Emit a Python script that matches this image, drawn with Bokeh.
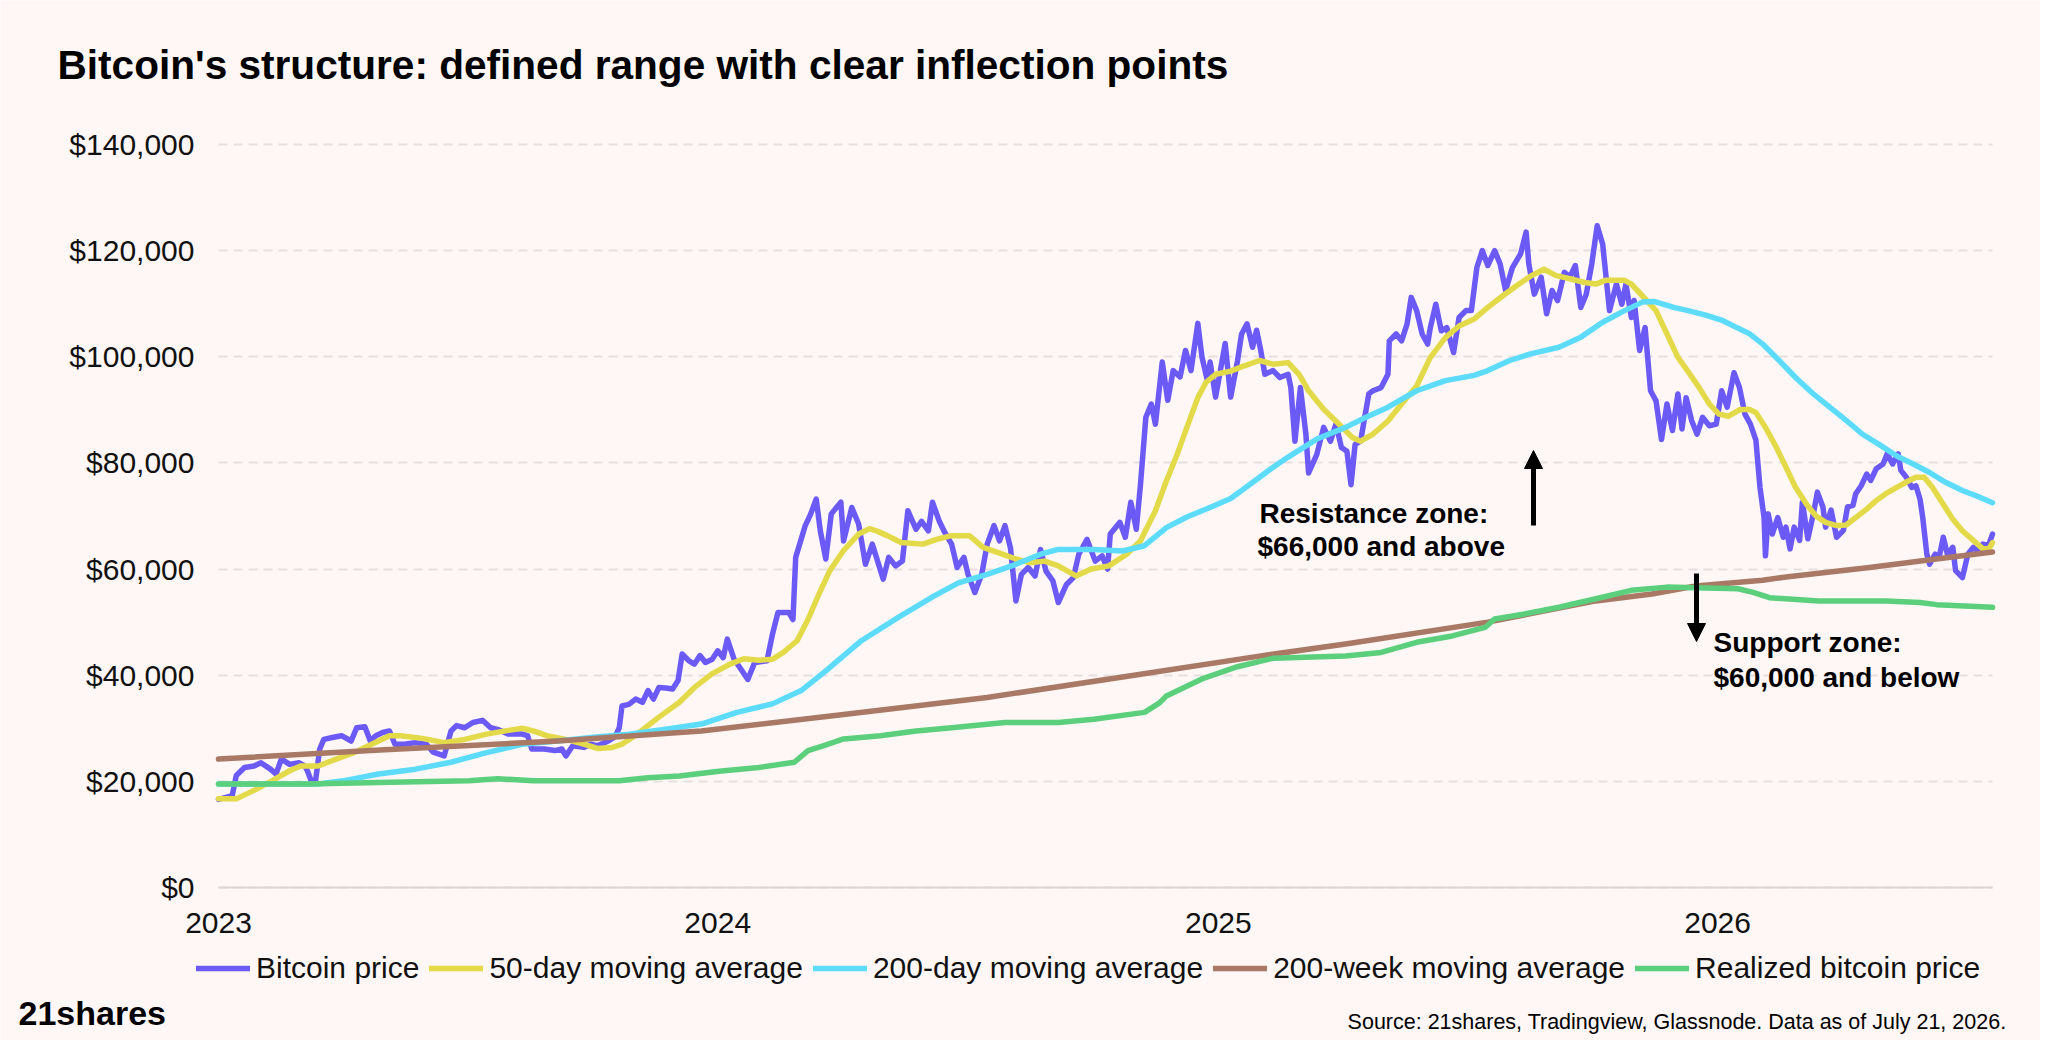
from datetime import datetime
import pandas as pd
from bokeh.plotting import figure
from bokeh.models import (ColumnDataSource, Range1d, FixedTicker, NumeralTickFormatter,
                          DatetimeTickFormatter, Legend, LegendItem, Label, Arrow, NormalHead)
from bokeh.embed import file_html
from bokeh.resources import INLINE

# ---------------- data (values in thousands of USD) ----------------
btc_dates = [
    "2023-01-01", "2023-01-11", "2023-01-14", "2023-01-20", "2023-01-27", "2023-02-01", "2023-02-08", "2023-02-12",
    "2023-02-16", "2023-02-22", "2023-03-01", "2023-03-05", "2023-03-07", "2023-03-10", "2023-03-13", "2023-03-16",
    "2023-03-19", "2023-03-26", "2023-04-01", "2023-04-08", "2023-04-12", "2023-04-18", "2023-04-22", "2023-04-26",
    "2023-05-01", "2023-05-06", "2023-05-10", "2023-05-17", "2023-05-25", "2023-06-02", "2023-06-07", "2023-06-15",
    "2023-06-20", "2023-06-24", "2023-06-30", "2023-07-06", "2023-07-13", "2023-07-19", "2023-07-24", "2023-08-01",
    "2023-08-11", "2023-08-15", "2023-08-18", "2023-08-27", "2023-09-04", "2023-09-09", "2023-09-12", "2023-09-17",
    "2023-09-25", "2023-09-30", "2023-10-05", "2023-10-13", "2023-10-18", "2023-10-21", "2023-10-23", "2023-10-28",
    "2023-11-02", "2023-11-07", "2023-11-11", "2023-11-15", "2023-11-19", "2023-11-24", "2023-11-29", "2023-12-03",
    "2023-12-06", "2023-12-11", "2023-12-15", "2023-12-19", "2023-12-23", "2023-12-28", "2024-01-01", "2024-01-05",
    "2024-01-08", "2024-01-13", "2024-01-17", "2024-01-23", "2024-01-28", "2024-02-06", "2024-02-10", "2024-02-14",
    "2024-02-22", "2024-02-25", "2024-02-27", "2024-03-05", "2024-03-09", "2024-03-13", "2024-03-16", "2024-03-20",
    "2024-03-24", "2024-03-31", "2024-04-02", "2024-04-08", "2024-04-13", "2024-04-18", "2024-04-23", "2024-05-01",
    "2024-05-05", "2024-05-10", "2024-05-15", "2024-05-19", "2024-05-25", "2024-05-29", "2024-06-03", "2024-06-06",
    "2024-06-11", "2024-06-15", "2024-06-20", "2024-06-24", "2024-06-29", "2024-07-02", "2024-07-07", "2024-07-12",
    "2024-07-16", "2024-07-21", "2024-07-25", "2024-07-29", "2024-08-02", "2024-08-06", "2024-08-10", "2024-08-15",
    "2024-08-20", "2024-08-24", "2024-08-28", "2024-09-02", "2024-09-06", "2024-09-12", "2024-09-17", "2024-09-21",
    "2024-09-27", "2024-10-03", "2024-10-08", "2024-10-12", "2024-10-14", "2024-10-21", "2024-10-25", "2024-10-29",
    "2024-11-02", "2024-11-05", "2024-11-09", "2024-11-13", "2024-11-16", "2024-11-21", "2024-11-25", "2024-11-29",
    "2024-12-04", "2024-12-08", "2024-12-12", "2024-12-17", "2024-12-20", "2024-12-24", "2024-12-26", "2024-12-30",
    "2025-01-06", "2025-01-10", "2025-01-15", "2025-01-18", "2025-01-22", "2025-01-26", "2025-01-29", "2025-02-01",
    "2025-02-04", "2025-02-10", "2025-02-15", "2025-02-21", "2025-02-23", "2025-02-26", "2025-03-02", "2025-03-06",
    "2025-03-08", "2025-03-14", "2025-03-19", "2025-03-24", "2025-03-28", "2025-04-01", "2025-04-05", "2025-04-08",
    "2025-04-11", "2025-04-15", "2025-04-21", "2025-04-24", "2025-04-30", "2025-05-05", "2025-05-06", "2025-05-11",
    "2025-05-15", "2025-05-19", "2025-05-22", "2025-05-26", "2025-05-30", "2025-06-03", "2025-06-05", "2025-06-09",
    "2025-06-13", "2025-06-17", "2025-06-22", "2025-06-26", "2025-07-01", "2025-07-05", "2025-07-09", "2025-07-13",
    "2025-07-17", "2025-07-22", "2025-07-26", "2025-07-30", "2025-08-04", "2025-08-10", "2025-08-14", "2025-08-16",
    "2025-08-20", "2025-08-25", "2025-08-29", "2025-09-02", "2025-09-06", "2025-09-11", "2025-09-15", "2025-09-19",
    "2025-09-23", "2025-09-27", "2025-10-01", "2025-10-05", "2025-10-09", "2025-10-11", "2025-10-14", "2025-10-19",
    "2025-10-23", "2025-10-26", "2025-10-30", "2025-11-01", "2025-11-05", "2025-11-09", "2025-11-13", "2025-11-17",
    "2025-11-21", "2025-11-25", "2025-11-29", "2025-12-03", "2025-12-06", "2025-12-09", "2025-12-13", "2025-12-17",
    "2025-12-21", "2025-12-26", "2025-12-31", "2026-01-04", "2026-01-08", "2026-01-13", "2026-01-17", "2026-01-21",
    "2026-01-25", "2026-01-29", "2026-02-01", "2026-02-04", "2026-02-05", "2026-02-07", "2026-02-10", "2026-02-14",
    "2026-02-18", "2026-02-20", "2026-02-23", "2026-02-26", "2026-03-02", "2026-03-04", "2026-03-08", "2026-03-12",
    "2026-03-15", "2026-03-19", "2026-03-21", "2026-03-25", "2026-03-29", "2026-04-03", "2026-04-06", "2026-04-10",
    "2026-04-12", "2026-04-16", "2026-04-20", "2026-04-23", "2026-04-27", "2026-05-02", "2026-05-05", "2026-05-09",
    "2026-05-13", "2026-05-15", "2026-05-19", "2026-05-23", "2026-05-26", "2026-05-29", "2026-05-31", "2026-06-03",
    "2026-06-05", "2026-06-09", "2026-06-12", "2026-06-15", "2026-06-18", "2026-06-22", "2026-06-24", "2026-06-29",
    "2026-07-03", "2026-07-07", "2026-07-10", "2026-07-14", "2026-07-18", "2026-07-21",
]
btc_values = [
    16.6, 17.3, 21.1, 22.6, 22.9, 23.5, 22.3, 21.4,
    24.2, 23.2, 23.5, 22.9, 22.0, 19.9, 20.2, 26.1,
    27.9, 28.3, 28.6, 27.6, 30.1, 30.3, 27.6, 28.6,
    29.2, 29.5, 27.0, 27.0, 27.3, 27.0, 25.5, 24.8,
    29.5, 30.5, 30.1, 31.1, 31.5, 30.1, 29.8, 28.9,
    28.9, 28.6, 26.1, 26.1, 25.8, 26.1, 24.8, 26.7,
    26.4, 27.0, 26.7, 27.6, 28.4, 30.1, 34.2, 34.5,
    35.5, 34.9, 37.1, 35.5, 37.7, 37.6, 37.4, 39.0,
    44.0, 42.7, 42.1, 43.7, 42.4, 43.0, 44.6, 43.3,
    46.8, 43.0, 41.5, 39.2, 42.4, 42.7, 47.7, 51.8,
    51.8, 50.5, 62.2, 68.2, 70.4, 73.2, 67.2, 61.9,
    70.4, 72.6, 65.3, 71.6, 68.5, 60.9, 64.7, 58.1,
    62.2, 60.6, 61.5, 71.0, 67.5, 69.0, 67.2, 72.6,
    69.0, 66.9, 64.7, 60.3, 62.2, 59.0, 55.6, 59.0,
    64.7, 68.2, 65.3, 68.2, 64.0, 54.0, 59.0, 60.3,
    58.7, 63.7, 59.6, 57.8, 53.7, 57.1, 58.4, 62.8,
    65.6, 61.5, 62.5, 60.0, 66.6, 68.8, 66.0, 72.6,
    67.5, 75.7, 88.6, 91.1, 87.3, 99.0, 91.8, 97.4,
    96.2, 101.2, 97.4, 106.3, 100.0, 95.5, 99.0, 92.4,
    102.5, 92.4, 99.2, 104.3, 106.2, 101.8, 105.0, 101.2,
    96.7, 97.4, 96.1, 96.7, 94.2, 84.1, 94.2, 85.4,
    78.1, 81.6, 86.7, 84.1, 87.3, 82.9, 82.2, 75.9,
    83.5, 84.1, 93.0, 93.6, 94.2, 96.7, 103.0, 104.3,
    103.0, 106.2, 111.2, 108.7, 104.3, 102.4, 105.5, 109.9,
    104.9, 105.5, 100.8, 107.4, 108.7, 108.7, 116.8, 120.0,
    117.2, 120.0, 117.5, 112.5, 116.8, 119.4, 123.5, 117.5,
    111.8, 115.0, 108.1, 112.5, 110.6, 115.9, 115.0, 117.2,
    109.3, 111.8, 117.5, 124.7, 121.2, 116.2, 108.7, 113.7,
    109.9, 113.7, 107.4, 110.6, 101.2, 105.5, 93.6, 91.7,
    84.4, 91.1, 86.1, 93.0, 86.4, 92.3, 88.0, 85.4,
    88.6, 87.0, 87.3, 93.6, 90.5, 97.0, 94.2, 89.2,
    87.3, 84.3, 75.4, 69.7, 62.5, 70.4, 66.6, 69.7,
    66.0, 67.9, 63.8, 67.9, 65.4, 72.6, 65.7, 70.4,
    74.5, 71.7, 67.9, 71.1, 66.0, 67.3, 71.7, 72.0,
    74.2, 75.7, 77.9, 76.7, 78.9, 79.8, 81.7, 79.8,
    81.7, 78.6, 77.3, 75.4, 75.7, 73.2, 69.7, 62.8,
    60.9, 62.8, 62.2, 66.0, 62.8, 64.1, 59.7, 58.4,
    62.8, 64.1, 63.5, 64.7, 64.4, 66.6,
]

ma50_dates = [
    "2023-01-01", "2023-01-14", "2023-01-27", "2023-02-09", "2023-02-22", "2023-03-02", "2023-03-15", "2023-03-28",
    "2023-04-10", "2023-04-23", "2023-05-06", "2023-05-14", "2023-05-30", "2023-06-15", "2023-06-30", "2023-07-16",
    "2023-08-01", "2023-08-11", "2023-08-19", "2023-08-29", "2023-09-12", "2023-09-25", "2023-10-05", "2023-10-16",
    "2023-10-23", "2023-11-03", "2023-11-19", "2023-12-04", "2023-12-15", "2023-12-28", "2024-01-10", "2024-01-20",
    "2024-01-31", "2024-02-10", "2024-02-18", "2024-02-28", "2024-03-07", "2024-03-15", "2024-03-23", "2024-04-02",
    "2024-04-13", "2024-04-21", "2024-04-26", "2024-05-04", "2024-05-14", "2024-05-30", "2024-06-09", "2024-06-20",
    "2024-07-03", "2024-07-13", "2024-07-24", "2024-08-06", "2024-08-16", "2024-08-27", "2024-09-06", "2024-09-19",
    "2024-09-30", "2024-10-13", "2024-10-26", "2024-11-05", "2024-11-16", "2024-11-24", "2024-12-02", "2024-12-09",
    "2024-12-17", "2024-12-23", "2024-12-30", "2025-01-10", "2025-01-20", "2025-01-31", "2025-02-10", "2025-02-21",
    "2025-03-01", "2025-03-08", "2025-03-19", "2025-03-29", "2025-04-09", "2025-04-15", "2025-04-24", "2025-05-05",
    "2025-05-15", "2025-05-26", "2025-06-05", "2025-06-16", "2025-06-26", "2025-07-07", "2025-07-17", "2025-07-28",
    "2025-08-07", "2025-08-18", "2025-08-27", "2025-09-05", "2025-09-15", "2025-09-26", "2025-10-04", "2025-10-11",
    "2025-10-25", "2025-10-30", "2025-11-07", "2025-11-17", "2025-11-25", "2025-12-03", "2025-12-11", "2025-12-19",
    "2025-12-26", "2026-01-02", "2026-01-09", "2026-01-17", "2026-01-24", "2026-01-29", "2026-02-05", "2026-02-13",
    "2026-02-20", "2026-02-27", "2026-03-07", "2026-03-14", "2026-03-21", "2026-03-29", "2026-04-05", "2026-04-12",
    "2026-04-20", "2026-04-27", "2026-05-04", "2026-05-12", "2026-05-19", "2026-05-26", "2026-06-01", "2026-06-07",
    "2026-06-15", "2026-06-22", "2026-06-29", "2026-07-07", "2026-07-14", "2026-07-19", "2026-07-21",
]
ma50_values = [
    16.7, 16.7, 18.3, 20.1, 22.0, 22.9, 22.9, 24.2,
    25.4, 27.0, 28.6, 28.6, 28.1, 27.3, 27.9, 28.9,
    29.6, 30.0, 29.5, 28.6, 27.9, 27.0, 26.2, 26.4,
    27.0, 28.9, 32.1, 34.9, 37.7, 40.3, 42.1, 43.1,
    42.8, 43.0, 44.3, 46.5, 50.5, 55.3, 59.7, 63.5,
    66.6, 67.6, 67.2, 66.3, 65.0, 64.7, 65.6, 66.3,
    66.3, 64.1, 63.1, 61.9, 61.2, 61.5, 60.6, 58.7,
    60.0, 60.6, 62.8, 65.3, 71.0, 76.6, 81.7, 86.7,
    92.3, 95.2, 96.7, 97.3, 98.3, 99.3, 98.6, 98.9,
    96.7, 93.6, 90.1, 87.6, 84.8, 84.1, 85.4, 87.9,
    91.1, 94.5, 99.9, 103.6, 105.8, 107.1, 109.3, 111.5,
    113.4, 115.3, 116.5, 115.3, 114.7, 114.0, 113.7, 114.4,
    114.4, 113.7, 111.5, 108.7, 104.3, 99.9, 97.0, 94.0,
    91.1, 89.2, 88.8, 90.0, 90.1, 89.5, 86.7, 82.9,
    79.2, 75.4, 72.2, 70.0, 68.8, 68.2, 68.3, 69.7,
    71.3, 72.9, 74.2, 75.4, 76.4, 77.3, 77.3, 75.4,
    72.2, 69.4, 67.2, 65.4, 63.8, 64.1, 65.0,
]

ma200d_dates = [
    "2023-01-01", "2023-02-09", "2023-03-15", "2023-04-02", "2023-04-28", "2023-05-25", "2023-06-20", "2023-07-16",
    "2023-08-11", "2023-09-06", "2023-10-02", "2023-10-28", "2023-11-24", "2023-12-20", "2024-01-15", "2024-02-10",
    "2024-03-02", "2024-03-20", "2024-04-15", "2024-05-12", "2024-06-07", "2024-06-25", "2024-07-16", "2024-08-06",
    "2024-08-24", "2024-09-06", "2024-10-02", "2024-10-23", "2024-11-08", "2024-11-24", "2024-12-09", "2024-12-25",
    "2025-01-10", "2025-01-26", "2025-02-09", "2025-02-21", "2025-03-14", "2025-04-04", "2025-04-19", "2025-05-05",
    "2025-05-26", "2025-06-16", "2025-07-07", "2025-07-17", "2025-08-02", "2025-08-18", "2025-09-07", "2025-09-23",
    "2025-10-09", "2025-10-25", "2025-11-07", "2025-11-16", "2025-11-30", "2025-12-12", "2025-12-24", "2026-01-05",
    "2026-01-15", "2026-01-24", "2026-02-03", "2026-02-15", "2026-02-27", "2026-03-12", "2026-03-24", "2026-04-05",
    "2026-04-17", "2026-04-29", "2026-05-12", "2026-05-24", "2026-06-05", "2026-06-17", "2026-06-29", "2026-07-12",
    "2026-07-21",
]
ma200d_values = [
    19.5, 19.5, 19.5, 20.1, 21.4, 22.3, 23.6, 25.4,
    27.0, 27.6, 28.3, 28.9, 29.8, 30.8, 33.0, 34.6,
    37.1, 40.8, 46.5, 50.9, 54.9, 57.4, 59.0, 60.9,
    62.8, 63.7, 63.7, 63.4, 64.4, 67.8, 69.8, 71.5,
    73.3, 76.3, 79.0, 81.1, 84.5, 86.7, 88.6, 90.5,
    93.6, 95.5, 96.5, 97.4, 99.3, 100.6, 101.8, 103.7,
    106.5, 108.7, 110.3, 110.4, 109.3, 108.6, 107.8, 106.8,
    105.5, 104.4, 102.4, 99.3, 96.1, 93.0, 90.5, 88.0,
    85.4, 83.5, 81.3, 79.8, 78.2, 76.3, 74.8, 73.5,
    72.5,
]

ma200w_dates = [
    "2023-01-01", "2023-04-29", "2023-09-06", "2023-12-20", "2024-04-02", "2024-07-16", "2024-10-29", "2025-01-31",
    "2025-04-04", "2025-07-17", "2025-10-04", "2025-11-14", "2025-12-16", "2026-02-03", "2026-02-20", "2026-04-22",
    "2026-06-10", "2026-07-21",
]
ma200w_values = [
    24.2, 25.9, 27.6, 29.5, 32.6, 35.8, 39.9, 43.6,
    45.9, 50.0, 54.0, 55.3, 56.8, 57.9, 58.5, 60.3,
    61.9, 63.2,
]

realized_dates = [
    "2023-01-01", "2023-03-07", "2023-04-28", "2023-07-03", "2023-07-24", "2023-08-19", "2023-10-21", "2023-11-11",
    "2023-12-04", "2024-01-02", "2024-01-31", "2024-02-26", "2024-03-07", "2024-03-18", "2024-04-02", "2024-04-29",
    "2024-05-25", "2024-06-20", "2024-07-29", "2024-09-06", "2024-10-02", "2024-11-08", "2024-11-19", "2024-11-24",
    "2024-12-20", "2025-01-15", "2025-02-10", "2025-04-04", "2025-04-30", "2025-05-26", "2025-06-21", "2025-07-15",
    "2025-07-22", "2025-08-12", "2025-09-07", "2025-10-04", "2025-10-30", "2025-11-25", "2025-12-16", "2026-01-16",
    "2026-01-27", "2026-02-08", "2026-03-16", "2026-05-04", "2026-05-29", "2026-06-10", "2026-07-21",
]
realized_values = [
    19.5, 19.5, 19.8, 20.1, 20.5, 20.1, 20.1, 20.7,
    21.0, 21.9, 22.6, 23.6, 25.8, 26.7, 28.0, 28.6,
    29.5, 30.1, 31.1, 31.1, 31.7, 33.0, 34.8, 36.1,
    39.3, 41.6, 43.2, 43.6, 44.3, 46.2, 47.4, 49.0,
    50.6, 51.5, 52.8, 54.4, 56.0, 56.6, 56.5, 56.3,
    55.6, 54.6, 54.0, 54.0, 53.7, 53.3, 52.8,
]

series_names = ["Bitcoin price", "50-day moving average", "200-day moving average",
                "200-week moving average", "Realized bitcoin price"]
series_colors = ["#6C5AF6", "#E3DA4A", "#5CDCFA", "#A97966", "#5CCF7C"]
year_ticks = ["2023-01-01", "2024-01-01", "2025-01-01", "2026-01-01"]
y_ticks = [0, 20000, 40000, 60000, 80000, 100000, 120000, 140000]

title_text = "Bitcoin's structure: defined range with clear inflection points"
source_text = "Source: 21shares, Tradingview, Glassnode. Data as of July 21, 2026."
logo_text = "21shares"
resist_lines = ["Resistance zone:", "$66,000 and above"]
support_lines = ["Support zone:", "$60,000 and below"]

# ---------------- layout (pixel geometry of the canvas) ----------------
BG = "#FEF7F5"
FONT = "Liberation Sans"
W, H = 2040, 1040
PLOT_L, PLOT_R = 218, 1992      # where 2023-01-01 and the last day sit
PLOT_T, PLOT_B = 144, 887       # where $140,000 and $0 sit
Y_MAX = 140000

x_start = pd.Timestamp("2023-01-01")
x_end = pd.Timestamp("2026-07-21")
t0 = x_start.value / 1e6
t1 = x_end.value / 1e6


def XD(fx):
    return t0 + (fx - PLOT_L) / (PLOT_R - PLOT_L) * (t1 - t0)


def YD(fy):
    return (PLOT_B - fy) / (PLOT_B - PLOT_T) * Y_MAX


p = figure(width=W, height=H, x_axis_type="datetime",
           x_range=Range1d(XD(0), XD(W)), y_range=Range1d(YD(H), YD(0)),
           output_backend="svg", toolbar_location=None,
           min_border_left=0, min_border_right=0, min_border_top=0, min_border_bottom=0)
p.background_fill_color = BG
p.border_fill_color = BG
p.outline_line_color = None

# axes (real Bokeh axes, pinned at $0 and at 2023-01-01)
xax = p.xaxis[0]
xax.fixed_location = 0
xax.bounds = (t0, t1)
xax.ticker = FixedTicker(ticks=[pd.Timestamp(d).value / 1e6 for d in year_ticks])
xax.formatter = DatetimeTickFormatter(years="%Y", months="%Y", days="%Y", hours="%Y",
                                      minutes="%Y", seconds="%Y")
xax.major_tick_line_color = None
xax.minor_tick_line_color = None
xax.major_tick_out = 0
xax.minor_tick_out = 0
xax.axis_line_color = "#DCD7D5"
xax.axis_line_width = 2
xax.major_label_text_font = FONT
xax.major_label_text_font_size = "30px"
xax.major_label_text_color = "#111111"
xax.major_label_standoff = 25

yax = p.yaxis[0]
yax.fixed_location = t0
yax.bounds = (0, Y_MAX)
yax.ticker = FixedTicker(ticks=y_ticks)
yax.formatter = NumeralTickFormatter(format="$0,0")
yax.axis_line_color = None
yax.major_tick_line_color = None
yax.minor_tick_line_color = None
yax.major_tick_out = 0
yax.minor_tick_out = 0
yax.major_label_text_font = FONT
yax.major_label_text_font_size = "30px"
yax.major_label_text_color = "#111111"
yax.major_label_standoff = 24

p.xgrid.grid_line_color = None
yg = p.ygrid[0]
yg.ticker = FixedTicker(ticks=y_ticks)
yg.bounds = (0, Y_MAX)
if "cross_bounds" in yg.properties():
    yg.cross_bounds = (t0, t1)
    yg.grid_line_color = "#E5E0DE"
    yg.grid_line_width = 2
    yg.grid_line_dash = "9 6"
else:
    yg.grid_line_color = None
    p.segment(x0=[x_start] * len(y_ticks), x1=[x_end] * len(y_ticks), y0=y_ticks, y1=y_ticks,
              line_color="#E5E0DE", line_width=2, line_dash="9 6")

# lines
all_series = [
    (btc_dates, btc_values),
    (ma50_dates, ma50_values),
    (ma200d_dates, ma200d_values),
    (ma200w_dates, ma200w_values),
    (realized_dates, realized_values),
]
renderers = []
for (dates, vals), color in zip(all_series, series_colors):
    src = ColumnDataSource(dict(x=pd.to_datetime(dates), y=[v * 1000 for v in vals]))
    r = p.line("x", "y", source=src, line_color=color, line_width=5.5,
               line_join="round", line_cap="round")
    renderers.append(r)

legend = Legend(items=[LegendItem(label=n, renderers=[r]) for n, r in zip(series_names, renderers)],
                orientation="horizontal", location=(196, 55),
                label_text_font=FONT, label_text_font_size="30px", label_text_color="#111111",
                glyph_width=54, glyph_height=30, label_standoff=6, spacing=10,
                padding=0, margin=0, background_fill_alpha=0, border_line_alpha=0)
p.add_layout(legend)

# texts (y = vertical middle of the capital letters)
def add_label(text, fx, fy, size, bold=False, align="left"):
    p.add_layout(Label(x=XD(fx), y=YD(fy), text=text, text_font=FONT,
                       text_font_size=size, text_font_style="bold" if bold else "normal",
                       text_color="#000000", text_align=align, text_baseline="middle"))

add_label(title_text, 57, 64, "40.6px", bold=True)
add_label(logo_text, 18, 1012, "34px", bold=True)
add_label(source_text, 2006, 1021, "21.5px", align="right")
add_label(resist_lines[0], 1259, 513, "28px", bold=True)
add_label(resist_lines[1], 1257, 546, "28px", bold=True)
add_label(support_lines[0], 1713, 642, "28px", bold=True)
add_label(support_lines[1], 1713, 677, "28px", bold=True)

for fx, fy0, fy1 in [(1533, 525, 450), (1696, 573, 641)]:
    p.add_layout(Arrow(end=NormalHead(size=18, fill_color="black", line_color="black", line_width=1),
                       x_start=XD(fx), y_start=YD(fy0), x_end=XD(fx), y_end=YD(fy1),
                       line_width=5, line_color="black"))

open("out.html", "w").write(file_html(p, INLINE))
